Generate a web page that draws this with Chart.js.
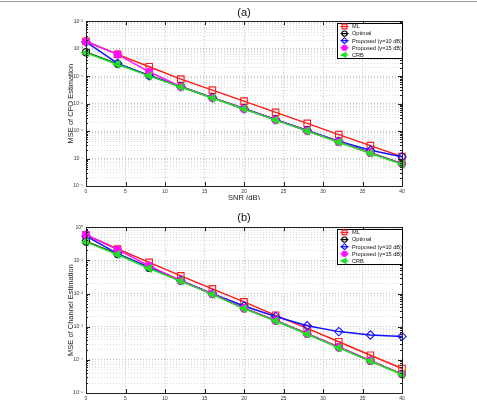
<!DOCTYPE html>
<html><head><meta charset="utf-8">
<script src="https://cdn.jsdelivr.net/npm/chart.js@4/dist/chart.umd.min.js"></script>
<style>
html,body{margin:0;padding:0;background:#fff;overflow:hidden;width:477px;height:401px;}
#topline{position:absolute;left:0;top:1px;width:477px;height:1px;background:#999;}
#w1{position:absolute;left:0;top:0;width:477px;height:200px;}
#w2{position:absolute;left:0;top:200px;width:477px;height:207px;}
</style></head><body>
<div id="topline"></div>
<div id="w1"><canvas id="c1"></canvas></div>
<div id="w2"><canvas id="c2"></canvas></div>
<script>
// ---- data ----
const snr = [0, 4, 8, 12, 16, 20, 24, 28, 32, 36, 40];
const xTicks = [0, 5, 10, 15, 20, 25, 30, 35, 40];
const seriesNames = ['ML', 'Optimal', 'Proposed (γ=10 dB)', 'Proposed (γ=15 dB)', 'CRB'];

// (a) MSE of CFO estimation
const yDecadesA = [1e-8, 1e-7, 1e-6, 1e-5, 1e-4, 1e-3, 1e-2];
const mlA  = [1.87e-3, 6.2e-4, 2.2e-4, 7.8e-5, 3.1e-5, 1.23e-5, 4.8e-6, 1.9e-6, 7.4e-7, 2.95e-7, 1.17e-7];
const optA = [7.4e-4, 2.8e-4, 1.06e-4, 4.2e-5, 1.65e-5, 6.6e-6, 2.6e-6, 1.05e-6, 4.1e-7, 1.62e-7, 6.5e-8];
const p10A = [1.75e-3, 2.9e-4, 1.04e-4, 4.1e-5, 1.62e-5, 6.5e-6, 2.6e-6, 1.05e-6, 4.3e-7, 2.0e-7, 1.17e-7];
const p15A = [1.8e-3, 6.2e-4, 1.44e-4, 4.1e-5, 1.62e-5, 6.5e-6, 2.55e-6, 1.02e-6, 4.0e-7, 1.6e-7, 6.4e-8];
const crbA = [7.1e-4, 2.66e-4, 1.02e-4, 4.0e-5, 1.59e-5, 6.4e-6, 2.5e-6, 1.0e-6, 3.9e-7, 1.55e-7, 6.2e-8];

// (b) MSE of channel estimation
const yDecadesB = [1e-5, 1e-4, 1e-3, 1e-2, 1e-1, 1];
const mlB  = [0.58, 0.22, 0.087, 0.034, 0.0138, 0.0056, 0.0022, 8.9e-4, 3.5e-4, 1.38e-4, 5.5e-5];
const optB = [0.37, 0.155, 0.059, 0.0243, 0.0097, 0.0036, 0.00153, 6.1e-4, 2.4e-4, 9.4e-5, 3.7e-5];
const p10B = [0.54, 0.16, 0.062, 0.025, 0.0099, 0.0042, 0.00204, 1.07e-3, 7.1e-4, 5.6e-4, 5.1e-4];
const p15B = [0.60, 0.21, 0.068, 0.0245, 0.0097, 0.0036, 0.00153, 6.1e-4, 2.4e-4, 9.4e-5, 3.7e-5];
const crbB = [0.36, 0.15, 0.057, 0.0236, 0.0094, 0.0035, 0.00148, 5.9e-4, 2.3e-4, 9.1e-5, 3.6e-5];

// ---- styling ----
const FONT = '"Liberation Sans", Arial, sans-serif';
const styles = [
  {color: '#ff1a1a', pointStyle: 'rect',     radius: 4.6, fill: 'rgba(0,0,0,0)', rot: 0,   order: 5},
  {color: '#000000', pointStyle: 'circle',   radius: 3.6, fill: 'rgba(0,0,0,0)', rot: 0,   order: 4},
  {color: '#1010ff', pointStyle: 'rectRot',  radius: 4.2, fill: 'rgba(0,0,0,0)', rot: 0,   order: 3},
  {color: '#ff10ff', pointStyle: 'circle',   radius: 3.6, fill: '#ff10ff',       rot: 0,   order: 2},
  {color: '#22dd22', pointStyle: 'triangle', radius: 4.2, fill: '#22dd22',       rot: -90, order: 1}
];
const sup = {'-': '⁻', '0': '⁰', '1': '¹', '2': '²', '3': '³', '4': '⁴', '5': '⁵', '6': '⁶', '7': '⁷', '8': '⁸', '9': '⁹'};
function isDecade(v) { const l = Math.log10(v); return Math.abs(l - Math.round(l)) < 1e-6; }
function decadeLabel(v) { const e = String(Math.round(Math.log10(v))); return '10' + e.split('').map(c => sup[c]).join(''); }

const frame = {
  id: 'frame',
  afterDraw(chart, args, opts) {
    const ctx = chart.ctx, a = chart.chartArea;
    const xs = chart.scales.x, ys = chart.scales.y;
    ctx.save();
    ctx.strokeStyle = '#222'; ctx.lineWidth = 1;
    ctx.strokeRect(Math.round(a.left) + 0.5, Math.round(a.top) + 0.5, Math.round(a.right - a.left), Math.round(a.bottom - a.top));
    ctx.beginPath();
    xs.ticks.forEach(t => {
      const x = Math.round(xs.getPixelForValue(t.value)) + 0.5;
      ctx.moveTo(x, a.bottom); ctx.lineTo(x, a.bottom - 4);
      ctx.moveTo(x, a.top); ctx.lineTo(x, a.top + 4);
    });
    ys.ticks.forEach(t => {
      const y = Math.round(ys.getPixelForValue(t.value)) + 0.5;
      const L = isDecade(t.value) ? 4 : 2;
      ctx.moveTo(a.left, y); ctx.lineTo(a.left + L, y);
      ctx.moveTo(a.right, y); ctx.lineTo(a.right - L, y);
    });
    ctx.stroke();
    // legend
    const bw = 65, bh = 35;
    const bx = Math.round(a.right - bw) + 0.5, by = Math.round(a.top + opts.dy) + 0.5;
    ctx.fillStyle = '#fff';
    ctx.fillRect(bx, by, bw, bh);
    ctx.strokeStyle = '#000';
    ctx.strokeRect(bx, by, bw, bh);
    ctx.font = '5.6px ' + FONT;
    ctx.textBaseline = 'middle';
    chart.data.datasets.forEach((ds, i) => {
      const y = by + 3 + i * 7.1;
      const st = styles[i];
      ctx.strokeStyle = st.color; ctx.lineWidth = 1.3;
      ctx.beginPath(); ctx.moveTo(bx + 3, y); ctx.lineTo(bx + 11, y); ctx.stroke();
      ctx.fillStyle = st.fill; ctx.lineWidth = 1.1;
      Chart.helpers.drawPoint(ctx, {pointStyle: st.pointStyle, rotation: st.rot, radius: st.radius * 0.72, borderWidth: 1.1}, bx + 7, y);
      ctx.fillStyle = '#111';
      ctx.fillText(ds.label, bx + 14.5, y + 0.3);
    });
    ctx.restore();
  }
};

function makeChart(id, title, titlePad, yTitle, decades, series, legendDy, xTitlePadBottom) {
  const datasets = series.map((vals, i) => ({
    label: seriesNames[i],
    data: snr.map((x, j) => ({x: x, y: vals[j]})),
    borderColor: styles[i].color,
    backgroundColor: styles[i].fill,
    pointBackgroundColor: styles[i].fill,
    pointBorderColor: styles[i].color,
    pointStyle: styles[i].pointStyle,
    pointRotation: styles[i].rot,
    pointRadius: styles[i].radius,
    pointBorderWidth: 1.1,
    borderWidth: 1.5,
    order: styles[i].order,
    clip: false,
    tension: 0
  }));
  return new Chart(document.getElementById(id), {
    type: 'line',
    data: {datasets},
    plugins: [frame],
    options: {
      responsive: true, maintainAspectRatio: false, animation: false,
      layout: {padding: {left: 66, right: 75, top: 0, bottom: 0}},
      plugins: {
        legend: {display: false}, tooltip: {enabled: false},
        title: {display: true, text: title, fullSize: false, color: '#111',
                font: {family: FONT, size: 11, weight: 'normal'}, padding: titlePad},
        frame: {dy: legendDy}
      },
      scales: {
        x: {
          type: 'linear', min: 0, max: 40,
          afterBuildTicks: s => { s.ticks = xTicks.map(v => ({value: v})); },
          afterFit: s => { s.height = 14; },
          ticks: {font: {family: FONT, size: 5}, color: '#333', padding: 3, maxRotation: 0, autoSkip: false},
          grid: {drawTicks: false, color: '#b0b0b0', lineWidth: 0.8},
          border: {display: false, dash: [1, 2]},
          title: {display: true, text: 'SNR (dB)', color: '#222', font: {family: FONT, size: 7.5}, padding: {top: 0, bottom: xTitlePadBottom}}
        },
        y: {
          type: 'logarithmic', min: decades[0], max: decades[decades.length - 1],
          afterBuildTicks: s => {
            const t = [];
            for (let d = 0; d < decades.length - 1; d++) {
              const e = Math.round(Math.log10(decades[d]));
              for (let k = 1; k <= 9; k++) t.push({value: parseFloat((k * Math.pow(10, e)).toPrecision(10))});
            }
            t.push({value: decades[decades.length - 1]});
            s.ticks = t;
          },
          afterFit: s => { s.width = 20; },
          ticks: {font: {family: FONT, size: 5}, color: '#333', padding: 3, autoSkip: false,
                  callback: v => isDecade(v) ? decadeLabel(v) : ''},
          grid: {drawTicks: false, lineWidth: 0.8,
                 color: c => (c.tick && isDecade(c.tick.value)) ? '#b0b0b0' : '#d2d2d2'},
          border: {display: false, dash: [1, 2]},
          title: {display: true, text: yTitle, color: '#222', font: {family: FONT, size: 7.5}, padding: 0}
        }
      }
    }
  });
}

makeChart('c1', '(a)', {top: 6, bottom: 2}, 'MSE of CFO Estimation', yDecadesA,
          [mlA, optA, p10A, p15A, crbA], 1.5, -2);
makeChart('c2', '(b)', {top: 11, bottom: 3}, 'MSE of Channel Estimation', yDecadesB,
          [mlB, optB, p10B, p15B, crbB], 1.3, -2);
</script>
</body></html>
